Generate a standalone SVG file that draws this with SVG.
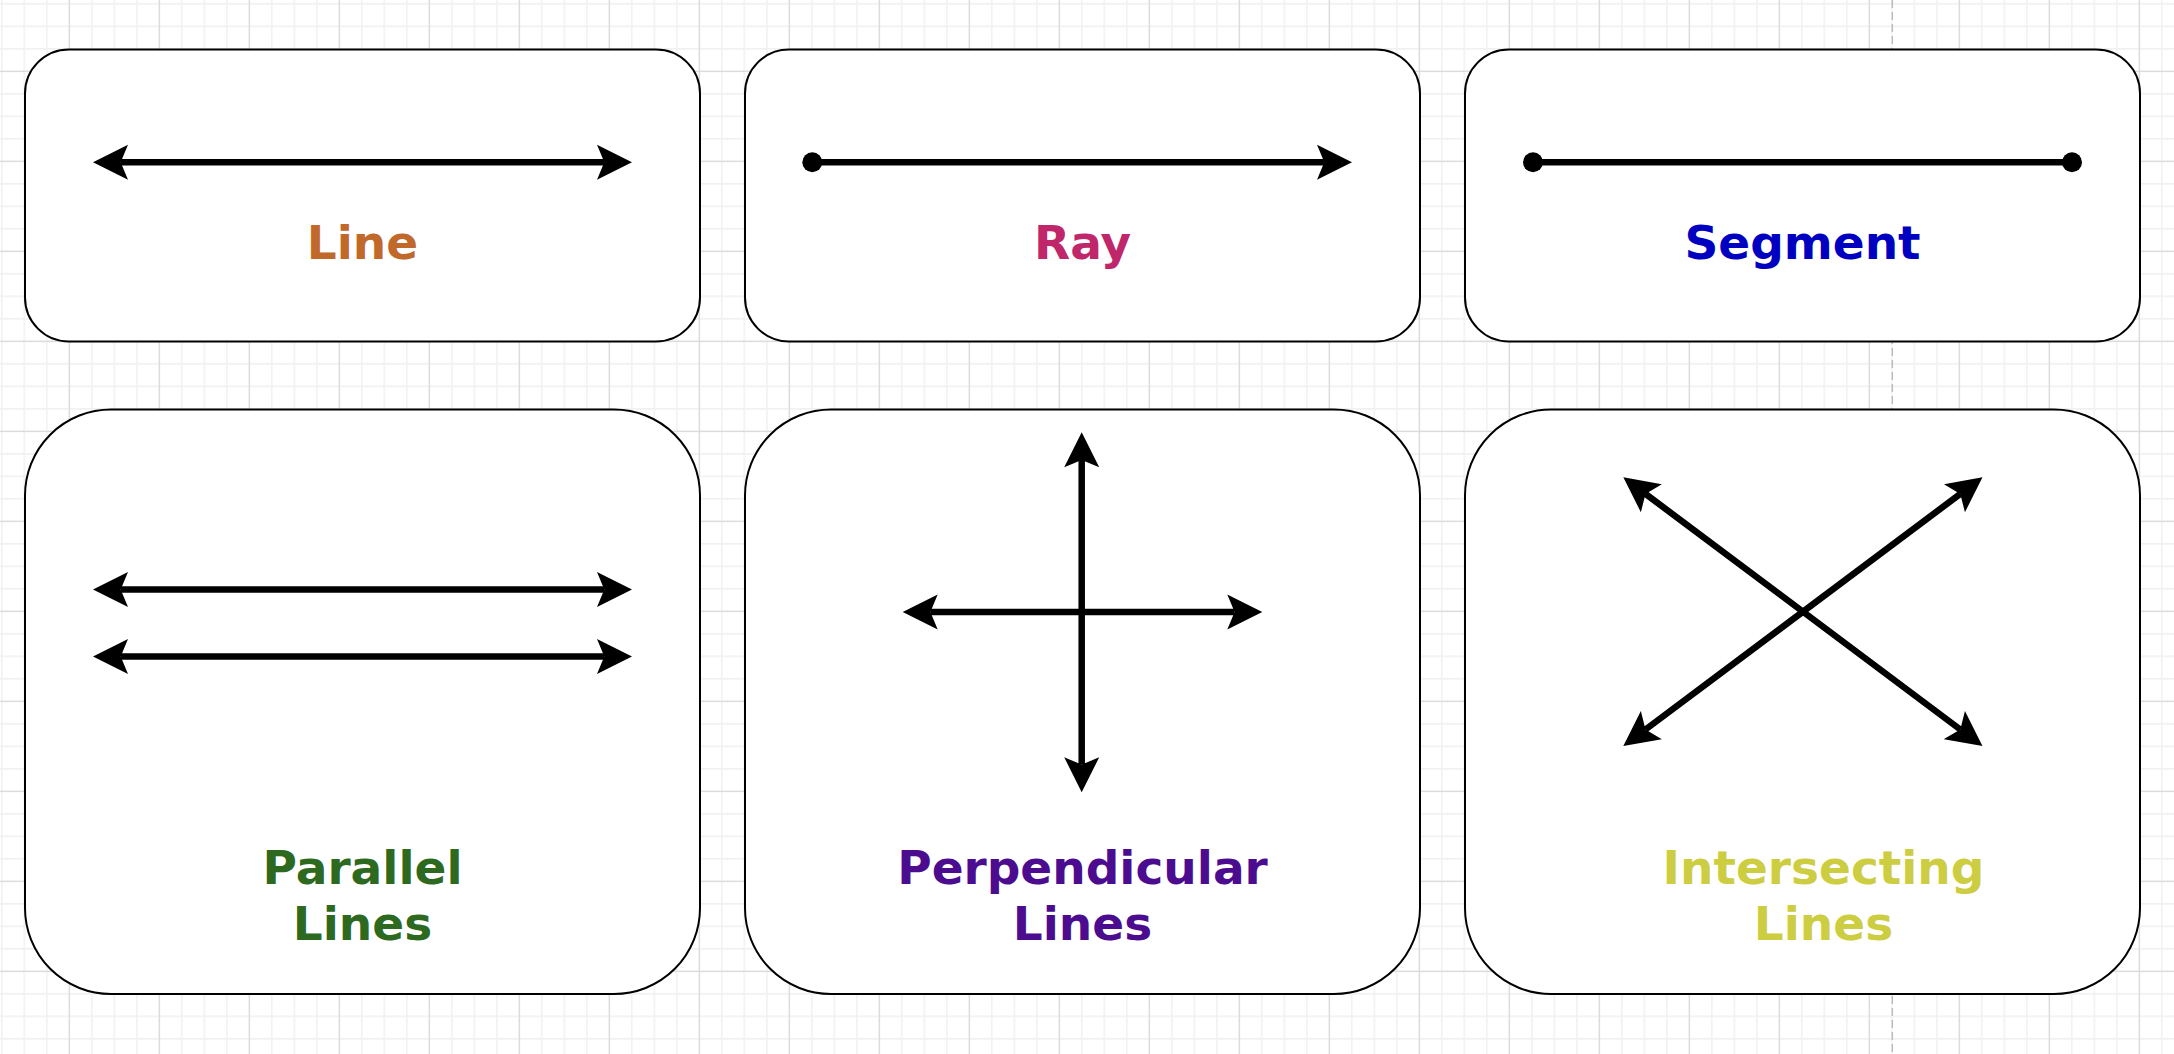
<svg xmlns="http://www.w3.org/2000/svg" width="2174" height="1054" viewBox="0 0 2174 1054">
  <defs>
    <pattern id="minor" patternUnits="userSpaceOnUse" x="0" y="0" width="22.5" height="22.5">
      <path d="M1.8 0V22.5M0 3.8H22.5" stroke="#f1f1f1" stroke-width="1.5" fill="none"/>
    </pattern>
    <pattern id="major" patternUnits="userSpaceOnUse" x="0" y="0" width="90" height="90">
      <path d="M69.3 0V90M0 71.3H90" stroke="#d6d6d6" stroke-width="1" fill="none"/>
    </pattern>
    <marker id="arrow" markerUnits="userSpaceOnUse" orient="auto-start-reverse" viewBox="-8 -18 36 36" markerWidth="36" markerHeight="36" refX="0" refY="0">
      <path d="M27.7 0L-7.3 -17.5L0 0L-7.3 17.5Z" fill="#000"/>
    </marker>
    <marker id="dot" markerUnits="userSpaceOnUse" viewBox="-11 -11 22 22" markerWidth="22" markerHeight="22" refX="0" refY="0">
      <circle cx="0" cy="0" r="10" fill="#000"/>
    </marker>
  </defs>
  <style>
    .box { fill: #ffffff; stroke: #000000; stroke-width: 2; }
    .lbl { font-family: "DejaVu Sans", Verdana, sans-serif; font-weight: bold; font-size: 47px; text-anchor: middle; }
    .ln { stroke: #000000; stroke-width: 6.5; fill: none; }
    .dbl { marker-start: url(#arrow); marker-end: url(#arrow); }
  </style>

  <g id="background">
    <rect x="0" y="0" width="2174" height="1054" fill="#ffffff"/>
    <rect x="0" y="0" width="2174" height="1054" fill="url(#minor)"/>
    <rect x="0" y="0" width="2174" height="1054" fill="url(#major)"/>
    <line x1="1892.3" y1="0" x2="1892.3" y2="1054" stroke="#bdbdbd" stroke-width="1.5" stroke-dasharray="8 4"/>
  </g>

  <g id="node-line">
    <rect class="box" x="25" y="49.5" width="675" height="292" rx="44" ry="44"/>
    <text class="lbl" x="362.5" y="259" fill="#c0692a">Line</text>
  </g>
  <g id="node-ray">
    <rect class="box" x="745" y="49.5" width="675" height="292" rx="44" ry="44"/>
    <text class="lbl" x="1082.5" y="259" fill="#c0266a">Ray</text>
  </g>
  <g id="node-segment">
    <rect class="box" x="1465" y="49.5" width="675" height="292" rx="44" ry="44"/>
    <text class="lbl" x="1802.5" y="259" fill="#0000c0">Segment</text>
  </g>
  <g id="node-parallel">
    <rect class="box" x="25" y="409.5" width="675" height="584.5" rx="86" ry="86"/>
    <text class="lbl" x="362.5" y="884" fill="#2d6a1f">Parallel</text>
    <text class="lbl" x="362.5" y="940" fill="#2d6a1f">Lines</text>
  </g>
  <g id="node-perpendicular">
    <rect class="box" x="745" y="409.5" width="675" height="584.5" rx="86" ry="86"/>
    <text class="lbl" x="1082.5" y="884" fill="#4c0c90">Perpendicular</text>
    <text class="lbl" x="1082.5" y="940" fill="#4c0c90">Lines</text>
  </g>
  <g id="node-intersecting">
    <rect class="box" x="1465" y="409.5" width="675" height="584.5" rx="86" ry="86"/>
    <text class="lbl" x="1823.5" y="884" fill="#cdcd42">Intersecting</text>
    <text class="lbl" x="1823.5" y="940" fill="#cdcd42">Lines</text>
  </g>

  <g id="connectors">
    <!-- Line -->
    <line class="ln dbl" x1="120.7" y1="162.3" x2="604.3" y2="162.3"/>
    <!-- Ray -->
    <line class="ln" x1="812.3" y1="162.3" x2="1324.3" y2="162.3" marker-start="url(#dot)" marker-end="url(#arrow)"/>
    <!-- Segment -->
    <line class="ln" x1="1533" y1="162.3" x2="2072" y2="162.3" marker-start="url(#dot)" marker-end="url(#dot)"/>
    <!-- Parallel -->
    <line class="ln dbl" x1="120.7" y1="589.5" x2="604.3" y2="589.5"/>
    <line class="ln dbl" x1="120.7" y1="656.5" x2="604.3" y2="656.5"/>
    <!-- Perpendicular -->
    <line class="ln dbl" x1="930.4" y1="612" x2="1234.6" y2="612"/>
    <line class="ln dbl" x1="1081.7" y1="460" x2="1081.7" y2="764.6"/>
    <!-- Intersecting -->
    <line class="ln dbl" x1="1645.5" y1="493.9" x2="1960.3" y2="729.5"/>
    <line class="ln dbl" x1="1960.3" y1="493.9" x2="1645.5" y2="729.5"/>
  </g>
</svg>
